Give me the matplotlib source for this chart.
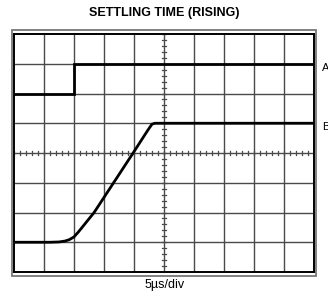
import numpy as np
import matplotlib.pyplot as plt
from matplotlib.patches import Rectangle

# scope trace values in divisions (x: 0..10, y: 0..8)
a_x = [0.0, 2.0, 2.0, 10.0]
a_y = [6.0, 6.0, 7.0, 7.0]

b_x = [0.0, 1.2, 1.5, 1.7, 1.85, 2.0, 2.15, 2.67, 3.97, 4.45, 4.6, 4.7, 10.0]
b_y = [1.0, 1.0, 1.01, 1.04, 1.09, 1.18, 1.35, 2.0, 4.0, 4.75, 4.97, 5.0, 5.0]

title = "SETTLING TIME (RISING)"
xlabel = "5\u00b5s/div"
trace_labels = ["A", "B"]
label_levels = [7, 5]

W, H = 328, 297
fig = plt.figure(figsize=(W / 100, H / 100), dpi=100)
ax = fig.add_axes([14 / W, 1 - 272 / H, 300 / W, 238 / H])
ax.set_xlim(0, 10)
ax.set_ylim(0, 8)
ax.set_xticks([])
ax.set_yticks([])
for s in ax.spines.values():
    s.set_linewidth(1.4)
    s.set_color("black")

gcol = "#4a4a4a"
for gx in range(1, 10):
    ax.axvline(gx, color=gcol, lw=1.0, zorder=1)
for gy in range(1, 8):
    ax.axhline(gy, color=gcol, lw=1.0, zorder=1)

# minor ticks on the centre lines
for t in np.arange(0, 10.01, 0.2):
    ax.plot([t, t], [4 - 0.08, 4 + 0.08], color=gcol, lw=0.9, zorder=1)
for t in np.arange(0, 8.01, 0.2):
    ax.plot([5 - 0.08, 5 + 0.08], [t, t], color=gcol, lw=0.9, zorder=1)

ax.plot(a_x, a_y, color="black", lw=2.0, zorder=3, solid_joinstyle="miter")
ax.plot(b_x, b_y, color="black", lw=2.0, zorder=3)

# outer frame of the scope screen
fig.patches.append(Rectangle((11.5 / W, 1 - 275.5 / H), 304.5 / W, 246 / H,
                             transform=fig.transFigure, fill=False,
                             edgecolor="#777777", lw=1.3))

fam = ["Liberation Sans Narrow", "Liberation Sans", "DejaVu Sans"]
fig.text(164 / W, 1 - 13 / H, title, ha="center", va="center",
         fontsize=9, fontweight="bold", family=fam)
fig.text(165 / W, 1 - 285 / H, xlabel, ha="center", va="center",
         fontsize=9, family=fam)
for lab, lv in zip(trace_labels, label_levels):
    yp = 272 - 29.75 * lv
    fig.text(322 / W, 1 - (yp + 4) / H, lab, ha="left", va="center",
             fontsize=8, family=fam)

fig.savefig("out.png", dpi=100)
